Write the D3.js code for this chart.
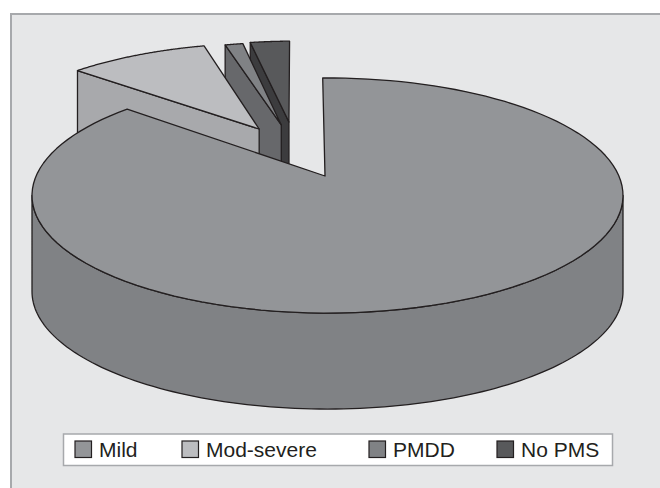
<!DOCTYPE html>
<html>
<head>
<meta charset="utf-8">
<script src="https://d3js.org/d3.v7.min.js"></script>
<style>
  html, body { margin: 0; padding: 0; background: #fff; }
  svg { display: block; }
</style>
</head>
<body>
<svg id="chart" width="660" height="488"></svg>
<script>
const categories = ["Mild", "Mod-severe", "PMDD", "No PMS"];
const values = [86.4, 9.4, 1.25, 2.8];

const topColors = ["#939598", "#bcbdc0", "#808285", "#58595b"];
const wallColors = ["#808285", "#a8a9ac", "#67686b", "#3c3c3e"];

// how far each slice is pulled out, and how much the pull direction is turned
const explode = [0, 0.508, 0.512, 0.532];
const explodeTurn = [0, 2.95, -6.1, -9.5];
const sliceRadius = [1, 1, 0.97, 0.955];
const tipNudge = [-2.5, 0, 0, 0];

const svg = d3.select("#chart");

// panel
svg.append("rect")
  .attr("x", 11).attr("y", 14)
  .attr("width", 660).attr("height", 490)
  .attr("fill", "#e6e7e8")
  .attr("stroke", "#a7a9ac")
  .attr("stroke-width", 2);

// tilted disc: unit circle to screen through a perspective mapping
const apexX = 327.5, apexY = 176;
const radiusX = 291.4, radiusY = 114.3;
const tilt = -0.166;
const depth = 96;
const toRad = Math.PI / 180;

function project(u, v) {
  const w = 1 + tilt * v;
  return [apexX + radiusX * u / w, apexY + radiusY * v / w];
}

const pie = d3.pie()
  .sort(null)
  .startAngle(-1.1 * toRad)
  .endAngle((360 - 1.1) * toRad);

const slices = pie(values);

function pathOf(points) {
  return d3.line()(points) + "Z";
}

function shifted(points) {
  return points.map(p => [p[0], p[1] + depth]).reverse();
}

// Mild goes last so that its top hides the back slices
const drawOrder = [3, 2, 1, 0];

drawOrder.forEach(i => {
  const s = slices[i];
  const mid = (s.startAngle + s.endAngle) / 2 + explodeTurn[i] * toRad;
  const ou = explode[i] * Math.sin(mid);
  const ov = -explode[i] * Math.cos(mid);
  const r = sliceRadius[i];
  const onDisc = a => project(ou + r * Math.sin(a), ov - r * Math.cos(a));

  const tip = project(ou, ov);
  const apex = [tip[0] + tipNudge[i], tip[1]];
  const arcPoints = d3.range(0, 121).map(k => onDisc(s.startAngle + (s.endAngle - s.startAngle) * k / 120));
  const first = arcPoints[0];

  const g = svg.append("g")
    .attr("stroke", "#231f20")
    .attr("stroke-width", 1.3)
    .attr("stroke-linejoin", "round");

  // left side wall of the pulled-out slices, the other side faces away
  if (explode[i] > 0) {
    const edge = [first, apex];
    g.append("path")
      .attr("d", pathOf(edge.concat(shifted(edge))))
      .attr("fill", wallColors[i]);
  }

  // outer wall, only the part that faces the viewer
  const edgeAngle = Math.acos(tilt);
  const front = d3.range(0, 121)
    .map(k => edgeAngle + (2 * Math.PI - 2 * edgeAngle) * k / 120)
    .filter(a => a >= s.startAngle && a <= s.endAngle)
    .map(onDisc);
  if (front.length) {
    g.append("path")
      .attr("d", pathOf(front.concat(shifted(front))))
      .attr("fill", wallColors[i]);
  }

  g.append("path")
    .attr("d", pathOf([apex].concat(arcPoints)))
    .attr("fill", topColors[i]);
});

// legend
const legendX = [75, 182, 369, 497];

svg.append("rect")
  .attr("x", 63.5).attr("y", 434)
  .attr("width", 549).attr("height", 31.5)
  .attr("fill", "#fff")
  .attr("stroke", "#a7a9ac")
  .attr("stroke-width", 1.5);

const legend = svg.selectAll(".legend-item")
  .data(categories)
  .enter().append("g")
  .attr("class", "legend-item")
  .attr("transform", (d, i) => `translate(${legendX[i]},441)`);

legend.append("rect")
  .attr("width", 16.5).attr("height", 16.5)
  .attr("fill", (d, i) => topColors[i])
  .attr("stroke", "#231f20")
  .attr("stroke-width", 1.2);

legend.append("text")
  .attr("x", 24)
  .attr("y", 16)
  .style("font-family", "'Liberation Sans', Arial, sans-serif")
  .style("font-size", "21px")
  .style("fill", "#231f20")
  .text(d => d);
</script>
</body>
</html>
